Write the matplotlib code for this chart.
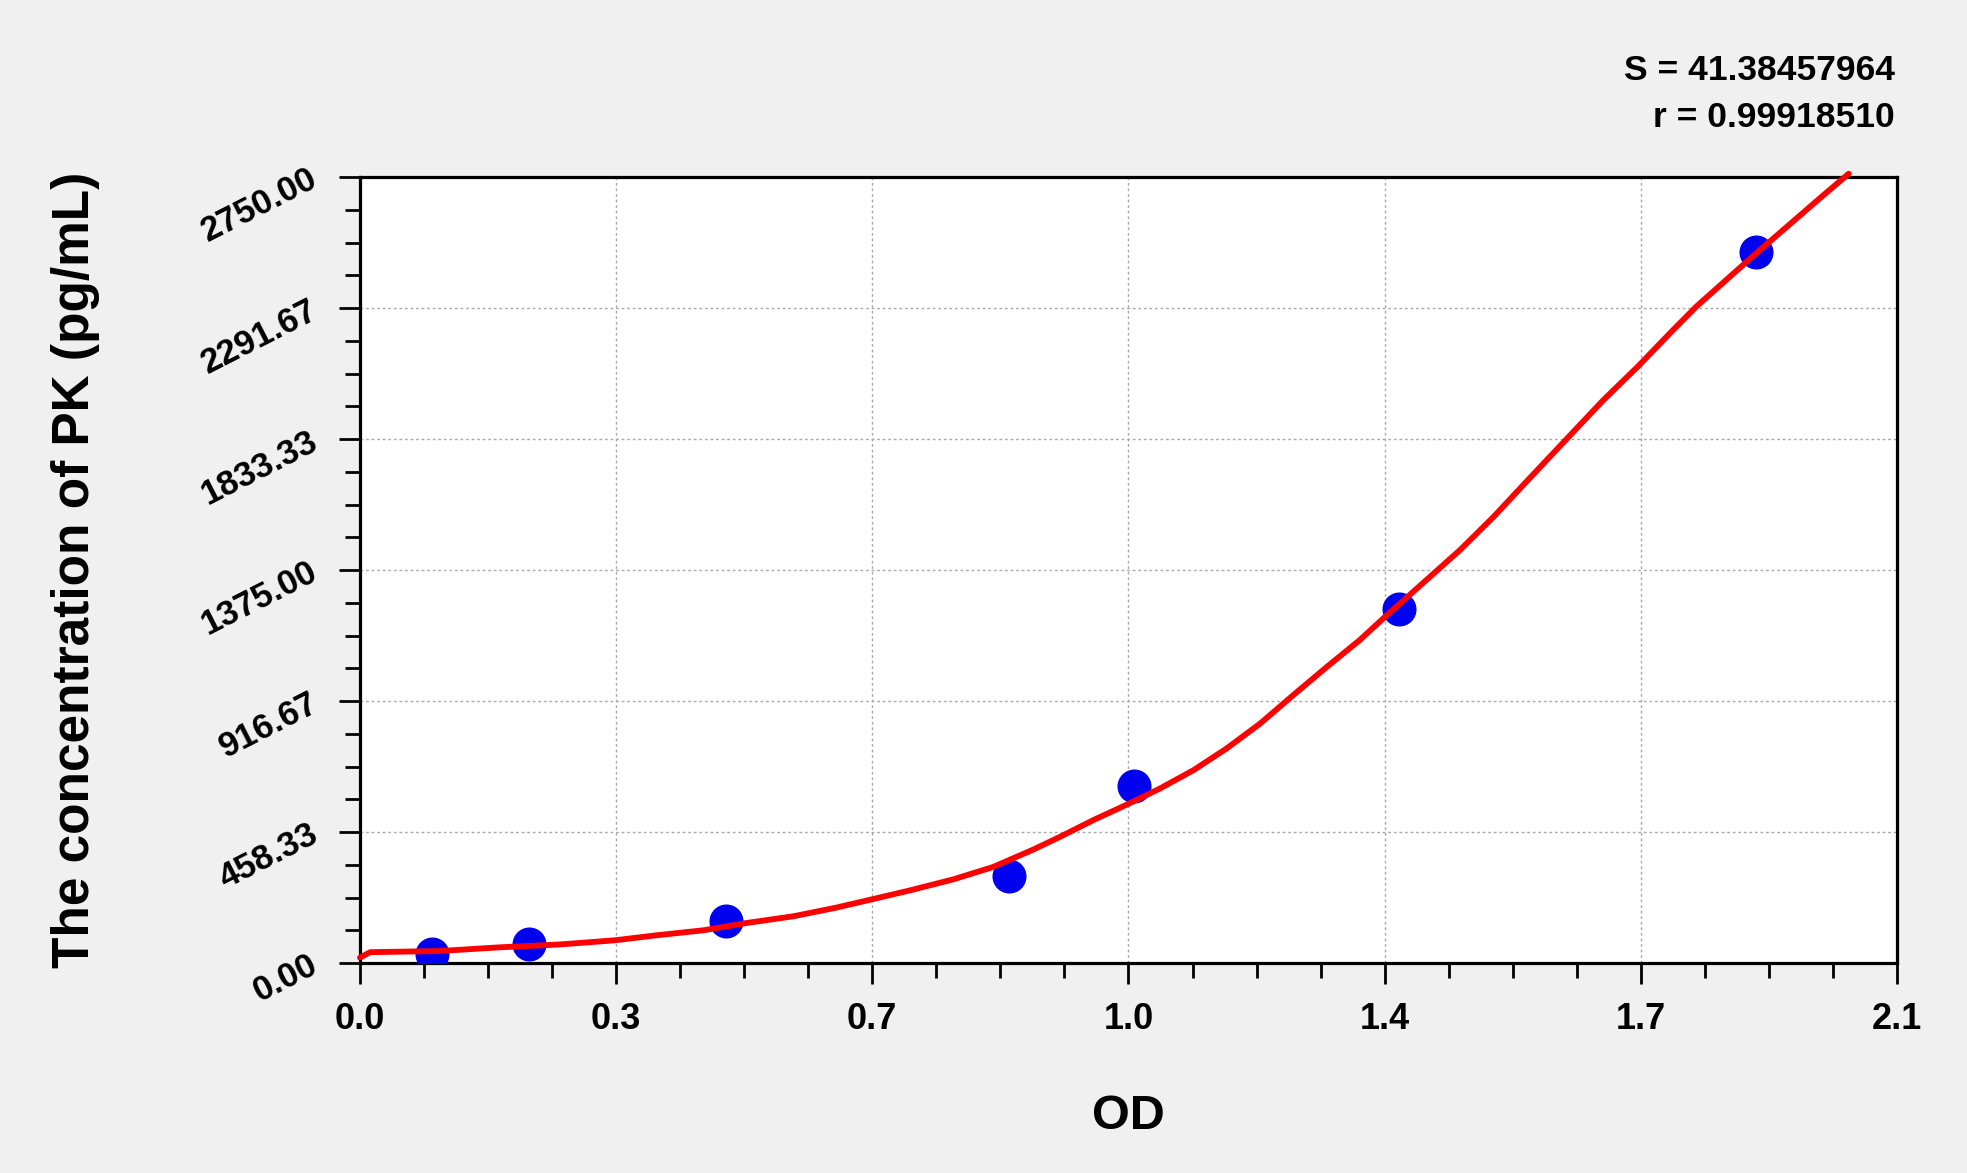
import matplotlib
matplotlib.use('Agg')
import matplotlib.pyplot as plt
from matplotlib.ticker import MultipleLocator

plt.rcParams['font.family'] = ['Liberation Sans', 'DejaVu Sans']
plt.rcParams['font.weight'] = 'bold'

# standards: OD vs concentration (pg/mL)
od = [0.099, 0.231, 0.500, 0.887, 1.057, 1.420, 1.907]
conc = [33, 68, 146, 304, 621, 1238, 2489]

# fitted curve
curve_od = [0.0, 0.014, 0.109, 0.191, 0.273, 0.348, 0.405, 0.469, 0.528, 0.592,
            0.651, 0.698, 0.752, 0.811, 0.865, 0.920, 0.956, 1.002, 1.048, 1.093,
            1.139, 1.184, 1.230, 1.275, 1.321, 1.366, 1.397, 1.457, 1.503, 1.549,
            1.594, 1.640, 1.699, 1.746, 1.790, 1.826, 1.867, 1.908, 1.958, 1.995,
            2.034]
curve_conc = [19, 38, 42, 55, 65, 79.5, 97, 114.5, 140, 163.5,
              194, 222, 254.5, 293, 336, 397, 441, 500, 554.5, 610.5,
              675, 750.5, 838, 937, 1036, 1130, 1203, 1340, 1445, 1561.5,
              1685, 1810, 1970, 2087, 2204, 2297, 2390.5, 2484, 2594.5, 2676.5,
              2761.5]

x_ticks = [0.0, 0.35, 0.7, 1.05, 1.4, 1.75, 2.1]
x_labels = ['0.0', '0.3', '0.7', '1.0', '1.4', '1.7', '2.1']
y_ticks = [0, 458.333, 916.667, 1375, 1833.333, 2291.667, 2750]
y_labels = ['0.00', '458.33', '916.67', '1375.00', '1833.33', '2291.67', '2750.00']

s_value = 'S = 41.38457964'
r_value = 'r = 0.99918510'

fig = plt.figure(figsize=(19.67, 11.73), dpi=100, facecolor='#f0f0f0')
ax = fig.add_axes([0.1830, 0.1790, 0.7814, 0.6701])
ax.set_facecolor('white')

ax.plot(od, conc, 'o', color='#0000f0', markersize=23.5, zorder=3)
ax.plot(curve_od, curve_conc, color='#ff0000', linewidth=4.2, zorder=4,
        clip_on=False, solid_capstyle='round', solid_joinstyle='round')

ax.set_xlim(0, 2.1)
ax.set_ylim(0, 2750)

ax.set_xticks(x_ticks, x_labels)
ax.xaxis.set_minor_locator(MultipleLocator(0.0875))
ax.set_yticks(y_ticks, y_labels)
ax.yaxis.set_minor_locator(MultipleLocator(2750 / 24))
for lab in ax.get_yticklabels():
    lab.set_rotation(27)
    lab.set_rotation_mode('anchor')
    lab.set_ha('right')
    lab.set_va('center')

ax.tick_params(which='major', direction='out', length=15, width=2.0,
               labelsize=26, color='black')
ax.tick_params(which='minor', direction='out', length=10.5, width=2.0)
ax.tick_params(axis='x', pad=13)
ax.tick_params(axis='y', pad=17, labelsize=25)

for sp in ax.spines.values():
    sp.set_linewidth(2.3)
    sp.set_color('black')

ax.grid(True, which='major', color='#aaaaaa', linestyle=(0, (2, 2)), linewidth=1.0)
ax.set_axisbelow(True)

ax.set_xlabel('OD', fontsize=35, fontweight='bold')
ax.xaxis.set_label_coords(0.5, -0.1668)
ax.set_ylabel('The concentration of PK (pg/mL)', fontsize=37, fontweight='bold')
ax.yaxis.set_label_coords(-0.169, 0.5)

fig.text(0.9634, 0.9318, s_value, ha='right', va='baseline', fontsize=25.5,
         fontweight='bold')
fig.text(0.9634, 0.8917, r_value, ha='right', va='baseline', fontsize=25.5,
         fontweight='bold')

fig.savefig('out.png', dpi=100, facecolor=fig.get_facecolor())
